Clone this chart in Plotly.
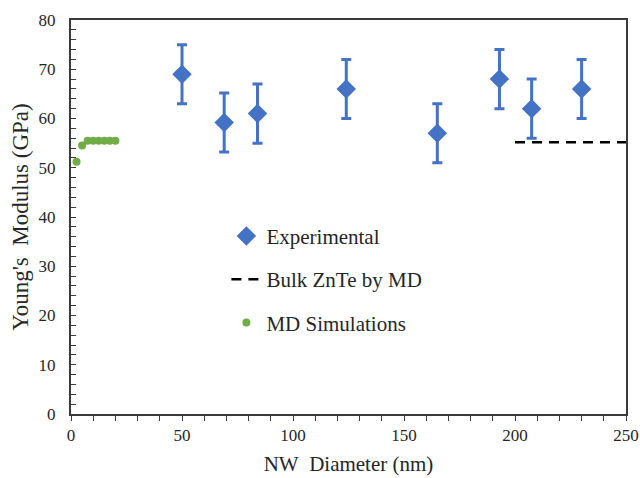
import plotly.graph_objects as go

# Experimental data
exp_diameter = [50, 69, 84, 124, 165, 193, 207.5, 230]
exp_modulus = [69, 59.2, 61, 66, 57, 68, 62, 66]
exp_error = [6, 6, 6, 6, 6, 6, 6, 6]

# Bulk ZnTe by MD
bulk_diameter = [200, 250]
bulk_modulus = [55.2, 55.2]

# MD simulations
md_diameter = [2.5, 5, 7.5, 10, 12.5, 15, 17.5, 20]
md_modulus = [51.2, 54.5, 55.5, 55.5, 55.5, 55.5, 55.5, 55.5]

BLUE = "#4472C4"
GREEN = "#70AD47"
FONT = "Liberation Serif"
TXT = "#262626"

fig = go.Figure()
fig.add_trace(go.Scatter(
    x=exp_diameter, y=exp_modulus, mode="markers", name="Experimental",
    legendgroup="a",
    marker=dict(symbol="diamond", size=15, color=BLUE),
    error_y=dict(type="data", array=exp_error, color=BLUE, thickness=3, width=5),
))
fig.add_trace(go.Scatter(
    x=bulk_diameter, y=bulk_modulus, mode="lines", name="Bulk ZnTe by MD",
    legendgroup="b",
    line=dict(color="black", width=2.5, dash="10px,7px"),
))
fig.add_trace(go.Scatter(
    x=md_diameter, y=md_modulus, mode="markers", name="MD Simulations",
    legendgroup="c",
    marker=dict(symbol="circle", size=8, color=GREEN),
))

fig.update_layout(
    width=640, height=478,
    margin=dict(l=71, r=14, t=20, b=64, autoexpand=False),
    paper_bgcolor="white", plot_bgcolor="white",
    font=dict(family=FONT, color=TXT, size=17),
    showlegend=True,
    legend=dict(
        x=0.28, y=0.503, xanchor="left", yanchor="top",
        font=dict(family=FONT, size=21, color=TXT),
        bgcolor="rgba(0,0,0,0)",
        traceorder="grouped", tracegroupgap=13,
    ),
    xaxis=dict(
        range=[0, 250], dtick=50, tick0=0, automargin=False,
        showgrid=False, zeroline=False,
        showline=True, linecolor="#3a3a3a", linewidth=2, mirror=True,
        ticks="outside", ticklen=5, tickcolor="#3a3a3a",
        minor=dict(dtick=10, ticks="outside", ticklen=5, tickcolor="#3a3a3a"),
        tickfont=dict(family=FONT, size=17, color=TXT),
        title=dict(text="NW\u00a0\u00a0Diameter (nm)", font=dict(family=FONT, size=21, color=TXT), standoff=12),
    ),
    yaxis=dict(
        range=[0, 80], dtick=10, tick0=0, automargin=False,
        showgrid=False, zeroline=False,
        showline=True, linecolor="#3a3a3a", linewidth=2, mirror=True,
        ticks="inside", ticklen=5, tickcolor="#3a3a3a",
        minor=dict(dtick=2, ticks="inside", ticklen=5, tickcolor="#3a3a3a"),
        tickfont=dict(family=FONT, size=17, color=TXT),
        ticklabelstandoff=10,
        title=dict(text="Young's\u00a0\u00a0Modulus (GPa)", font=dict(family=FONT, size=23, color=TXT), standoff=4),
    ),
)

fig.write_html("out.html", config={"displayModeBar": False},
               post_script="document.body.style.margin='0';")
